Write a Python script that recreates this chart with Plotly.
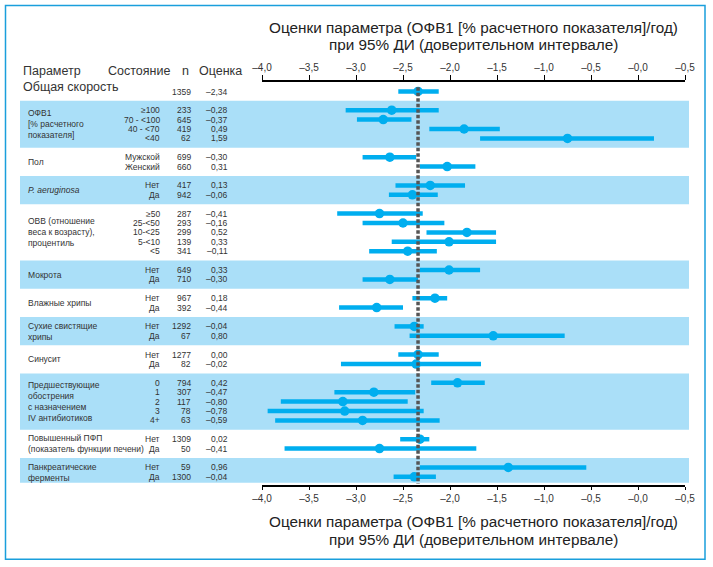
import plotly.graph_objects as go

# ---------------- data ----------------
overall_n = 1359
overall_est = "–2,34"
overall_point = -2.34
overall_lo = -2.55
overall_hi = -2.12

group_labels = [
    "ОФВ1<br>[% расчетного<br>показателя]",
    "Пол",
    "<i>P. aeruginosa</i>",
    "ОВВ (отношение<br>веса к возрасту),<br>процентиль",
    "Мокрота",
    "Влажные хрипы",
    "Сухие свистящие<br>хрипы",
    "Синусит",
    "Предшествующие<br>обострения<br>с назначением<br>IV антибиотиков",
    "Повышенный ПФП<br>(показатель функции печени)",
    "Панкреатические<br>ферменты",
]
group_sizes = [4, 2, 2, 5, 2, 2, 2, 2, 5, 2, 2]
group_shaded = [True, False, True, False, True, False, True, False, True, False, True]

conditions = [
    "≥100", "70 - &lt;100", "40 - &lt;70", "&lt;40",
    "Мужской", "Женский",
    "Нет", "Да",
    "≥50", "25-&lt;50", "10-&lt;25", "5-&lt;10", "&lt;5",
    "Нет", "Да",
    "Нет", "Да",
    "Нет", "Да",
    "Нет", "Да",
    "0", "1", "2", "3", "4+",
    "Нет", "Да",
    "Нет", "Да",
]
n_values = [233, 645, 419, 62,
            699, 660,
            417, 942,
            287, 293, 299, 139, 341,
            649, 710,
            967, 392,
            1292, 67,
            1277, 82,
            794, 307, 117, 78, 63,
            1309, 50,
            59, 1300]
estimates = ["–0,28", "–0,37", "0,49", "1,59",
             "–0,30", "0,31",
             "0,13", "–0,06",
             "–0,41", "–0,16", "0,52", "0,33", "–0,11",
             "0,33", "–0,30",
             "0,18", "–0,44",
             "–0,04", "0,80",
             "0,00", "–0,02",
             "0,42", "–0,47", "–0,80", "–0,78", "–0,59",
             "0,02", "–0,41",
             "0,96", "–0,04"]
points = [-2.62, -2.71, -1.85, -0.75,
          -2.64, -2.03,
          -2.21, -2.40,
          -2.75, -2.50, -1.82, -2.01, -2.45,
          -2.01, -2.64,
          -2.16, -2.78,
          -2.38, -1.54,
          -2.34, -2.36,
          -1.92, -2.81, -3.14, -3.12, -2.93,
          -2.32, -2.75,
          -1.38, -2.38]
ci_low = [-3.11, -2.99, -2.22, -1.68,
          -2.93, -2.32,
          -2.58, -2.65,
          -3.20, -2.93, -2.25, -2.62, -2.86,
          -2.32, -2.93,
          -2.40, -3.18,
          -2.59, -2.43,
          -2.55, -3.16,
          -2.20, -3.23, -3.80, -3.94, -3.86,
          -2.53, -3.76,
          -2.32, -2.60]
ci_high = [-2.12, -2.41, -1.47, 0.17,
           -2.36, -1.73,
           -1.84, -2.13,
           -2.29, -2.06, -1.51, -1.51, -2.14,
           -1.68, -2.34,
           -2.03, -2.50,
           -2.28, -0.78,
           -2.12, -1.67,
           -1.63, -2.37, -2.45, -2.28, -2.11,
           -2.22, -1.72,
           -0.55, -2.15]

tick_vals = [-4.0, -3.5, -3.0, -2.5, -2.0, -1.5, -1.0, -0.5, 0.0, 0.5]
tick_text = ["–4,0", "–3,5", "–3,0", "–2,5", "–2,0", "–1,5", "–1,0", "–0,5", "–0,0", "–0,5"]

header_labels = ["Параметр", "Состояние", "n", "Оценка"]
overall_label = "Общая скорость"
title_line1 = "Оценки параметра (ОФВ1 [% расчетного показателя]/год)"
title_line2 = "при 95% ДИ (доверительном интервале)"

# ---------------- layout helpers ----------------
FONT = "Liberation Sans, Arial, sans-serif"
TXT = "#333333"
CYAN = "#00aeef"
BAND = "#aadff8"

row_y = []
group_spans = []
group_centers = []
s = 1
for k in group_sizes:
    rows = [s + 1 + i for i in range(k)]
    row_y.extend(rows)
    group_spans.append((s, s + k + 1))
    group_centers.append((rows[0] + rows[-1]) / 2)
    s = s + k + 1

Y_TOP = -1.0
Y_BOT = 41.87

W, H = 713, 567
ML, MR, MT, MB = 262, 28, 82, 82
PW = W - ML - MR
PH = H - MT - MB


def px(xpix):
    return (xpix - ML) / PW


def py(ypix):
    return 1 - (ypix - MT) / PH


fig = go.Figure()

xs, ys = [overall_lo, overall_hi, None], [0, 0, None]
for lo, hi, y in zip(ci_low, ci_high, row_y):
    xs += [lo, hi, None]
    ys += [y, y, None]
fig.add_trace(go.Scatter(x=xs, y=ys, mode="lines",
                         line=dict(color=CYAN, width=4.5),
                         hoverinfo="skip", showlegend=False))
fig.add_trace(go.Scatter(x=[overall_point] + points, y=[0] + row_y, mode="markers",
                         marker=dict(color=CYAN, size=9.5, line=dict(width=0)),
                         showlegend=False))
fig.add_trace(go.Scatter(x=[-4.0, 0.5], y=[None, None], xaxis="x2", mode="markers",
                         marker=dict(opacity=0), hoverinfo="skip", showlegend=False))

shapes = []
for (a, b), shaded in zip(group_spans, group_shaded):
    if shaded:
        shapes.append(dict(type="rect", xref="paper", yref="y",
                           x0=px(20), x1=px(689), y0=a, y1=min(b, 41.62),
                           fillcolor=BAND, line=dict(width=0), layer="below"))
shapes.append(dict(type="line", xref="x", yref="y", x0=overall_point, x1=overall_point,
                   y0=-0.45, y1=41.75, line=dict(color="#555555", width=3.5, dash="3.5px,2px"),
                   layer="above"))
shapes.append(dict(type="rect", xref="paper", yref="paper",
                   x0=px(5.5), x1=px(705), y0=py(559.3), y1=py(5.5),
                   line=dict(color="#1a9fdc", width=1.5), layer="below"))

ann = []


def add(text, x, y, size=8.5, xanchor="left", yref="y", color=TXT):
    ann.append(dict(text=text, x=x, y=y, xref="paper", yref=yref, showarrow=False,
                    xanchor=xanchor, yanchor="middle",
                    align=xanchor if xanchor != "center" else "center",
                    font=dict(family=FONT, size=size, color=color)))


hy = py(71)
add(header_labels[0], px(21), hy, size=12.5, yref="paper")
add(header_labels[1], px(106), hy, size=12.5, yref="paper")
add(header_labels[2], px(185), hy, size=12.5, xanchor="center", yref="paper")
add(header_labels[3], px(197), hy, size=12.5, yref="paper")
add(overall_label, px(21), py(87.5), size=12.5, yref="paper")
add(str(overall_n), px(193), 0.1, size=8.5, xanchor="right")
add(overall_est, px(229.5), 0.1, size=8.5, xanchor="right")

for lab, c in zip(group_labels, group_centers):
    add(lab, px(26), c, size=8.5)
for cond, n, est, y in zip(conditions, n_values, estimates, row_y):
    add(cond, px(161.5), y, xanchor="right")
    add(str(n), px(193), y, xanchor="right")
    add(est, px(229.5), y, xanchor="right")

for txt, ypix in [(title_line1, 27.7), (title_line2, 44.5), (title_line1, 521.5), (title_line2, 539.3)]:
    ann.append(dict(text=txt, x=0.5, y=py(ypix), xref="paper", yref="paper",
                    showarrow=False, xanchor="center", yanchor="middle",
                    font=dict(family=FONT, size=15.3, color="#222222")))

axis_common = dict(range=[-4.0, 0.5], tickvals=tick_vals, ticktext=tick_text,
                   showline=True, linecolor="black", linewidth=1.5, showgrid=False,
                   zeroline=False, ticks="outside", tickcolor="black", tickwidth=1.3,
                   tickfont=dict(family=FONT, size=10, color=TXT), fixedrange=True)

fig.update_layout(
    width=W, height=H,
    margin=dict(l=ML, r=MR, t=MT, b=MB),
    paper_bgcolor="white", plot_bgcolor="rgba(0,0,0,0)",
    xaxis=dict(side="top", ticklen=5, **axis_common),
    xaxis2=dict(side="bottom", overlaying="x", anchor="y", ticklen=3, **axis_common),
    yaxis=dict(range=[Y_BOT, Y_TOP], visible=False, fixedrange=True),
    shapes=shapes, annotations=ann, showlegend=False,
    font=dict(family=FONT),
)

fig.write_html("out.html", config={"displayModeBar": False},
               post_script="document.body.style.margin='0';document.body.style.overflow='hidden';")
